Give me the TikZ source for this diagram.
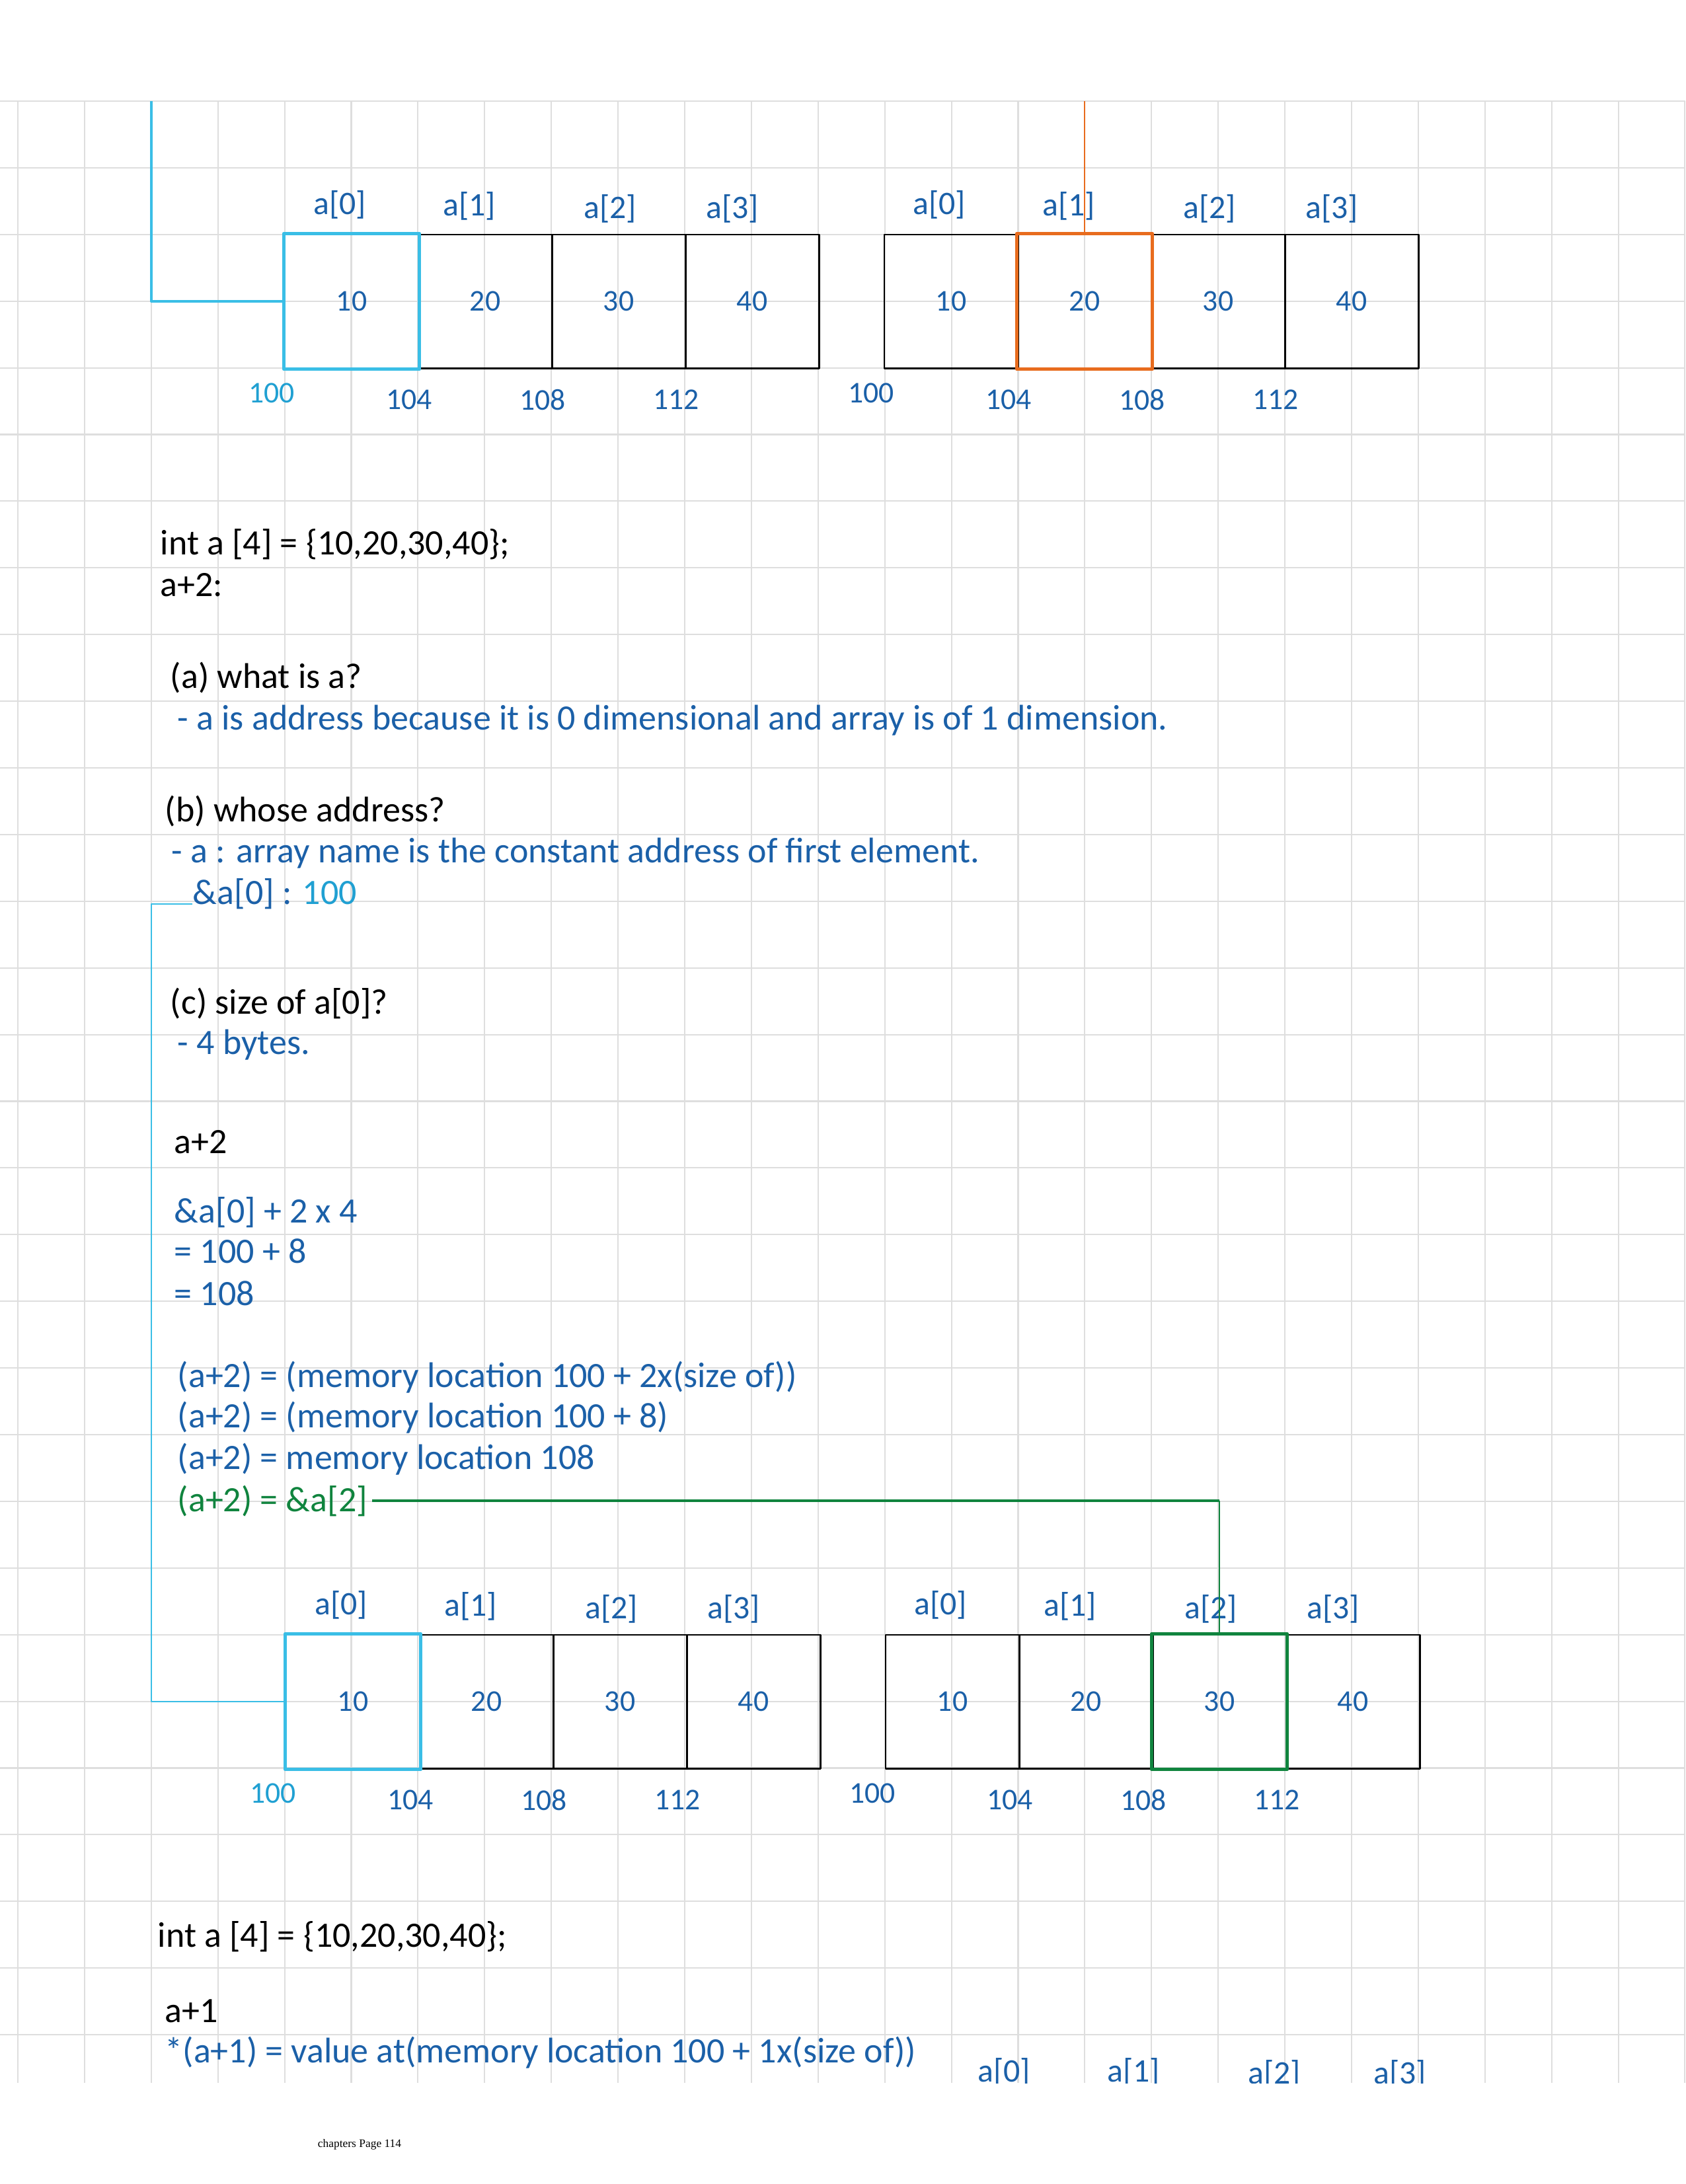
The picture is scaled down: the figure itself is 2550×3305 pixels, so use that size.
\documentclass[tikz,border=0pt]{standalone}
\usepackage{fontspec}
\setmainfont{Carlito}
\newfontfamily\footfont{Liberation Serif}
\definecolor{ink}{RGB}{27,96,168}
\definecolor{cyanink}{RGB}{32,160,210}
\definecolor{cyanline}{RGB}{58,190,230}
\definecolor{orangeline}{RGB}{232,108,30}
\definecolor{greenline}{RGB}{16,132,62}
\begin{document}
\begin{tikzpicture}[x=0.24bp, y=-0.24bp, line join=round,
    gridline/.style={draw=black!13, line width=0.5bp},
    cell/.style={draw=black, line width=0.7bp, minimum width=48.5bp, minimum height=48.5bp,
        inner sep=0pt, text=ink, font=\fontsize{11}{13}\selectfont},
    idx/.style={text=ink, inner sep=0pt, font=\fontsize{12}{14}\selectfont},
    addr/.style={text=ink, inner sep=0pt, font=\fontsize{11}{13}\selectfont},
    txt/.style={anchor=base west, inner sep=0pt, font=\fontsize{13}{15}\selectfont},
    note/.style={txt, text=ink}]
    \useasboundingbox (0,0) rectangle (2550,3305);

    % squared paper, cut off at the bottom
    \begin{scope}
        \clip (0,0) rectangle (2550,3152);
        \foreach \k in {0,...,25}
            \draw[gridline] ({27+100.9*\k},153) -- ({27+100.9*\k},3152);
        \foreach \j in {0,...,29}
            \draw[gridline] (0,{153+100.9*\j}) -- (2550,{153+100.9*\j});

        % labels of the last array (only their tops show)
        \node[idx] (tail0) at (1519,3136) {a[0]};
        \node[idx] (tail1) at (1715,3136) {a[1]};
        \node[idx] (tail2) at (1928,3139) {a[2]};
        \node[idx] (tail3) at (2118,3139) {a[3]};
    \end{scope}

    % the four arrays: name / top left corner / colour of "100"
    \foreach \arr/\ox/\oy/\zc in {upL/431/355/cyanink, upR/1338/355/ink,
                                  lowL/433/2474/cyanink, lowR/1340/2474/ink} {
        \foreach \i/\v/\dx/\dy in {0/10/-18/-45, 1/20/-24/-43, 2/30/-13/-39, 3/40/-30/-39} {
            \node[cell] (\arr\i) at ({\ox+101+202*\i},{\oy+101}) {\v};
            \node[idx] (\arr-lab\i) at ({\ox+101+202*\i+\dx},{\oy+\dy}) {a[\i]};
        }
        \node[addr, text=\zc] (\arr-adr0) at ({\ox-20},{\oy+240}) {100};
        \foreach \i in {1,2,3} {
            \pgfmathtruncatemacro\ad{100+4*\i}
            \node[addr] (\arr-adr\i) at ({\ox+202*\i-14},{\oy+250}) {\ad};
        }
    }

    % marked cells
    \draw[cyanline, line width=1.3bp] (upL0.south west) rectangle (upL0.north east);
    \draw[orangeline, line width=1.3bp] (upR1.south west) rectangle (upR1.north east);
    \draw[cyanline, line width=1.3bp] (lowL0.south west) rectangle (lowL0.north east);
    \draw[greenline, line width=1.3bp] (lowR2.south west) rectangle (lowR2.north east);

    % text of the page
    \node[txt] (decl1) at (242,839) {int a [4] = \{10,20,30,40\};};
    \node[txt] (step1) at (242,902) {a+2:};
    \node[txt] (qa) at (257,1041) {(a) what is a?};
    \node[note] (ansa) at (268,1104) {- a is address because it is 0 dimensional and array is of 1 dimension.};
    \node[txt] (qb) at (249,1243) {(b) whose address?};
    \node[note] (ansb) at (259,1305) {- a : array name is the constant address of first element.};
    \node[note] (addrzero) at (291,1368) {\&a[0] : \textcolor{cyanink}{100}};
    \node[txt] (qc) at (257,1534) {(c) size of a[0]?};
    \node[note] (ansc) at (268,1595) {- 4 bytes.};
    \node[txt] (step2) at (263,1745) {a+2};
    \node[note] (calcA) at (263,1850) {\&a[0] + 2 x 4};
    \node[note] (calcB) at (263,1911) {= 100 + 8};
    \node[note] (calcC) at (263,1975) {= 108};
    \node[note] (memA) at (268,2099) {(a+2) = (memory location 100 + 2x(size of))};
    \node[note] (memB) at (268,2160) {(a+2) = (memory location 100 + 8)};
    \node[note] (memC) at (268,2223) {(a+2) = memory location 108};
    \node[txt, text=greenline] (memD) at (268,2287) {(a+2) = \&a[2]};
    \node[txt] (decl2) at (238,2946) {int a [4] = \{10,20,30,40\};};
    \node[txt] (step3) at (249,3060) {a+1};
    \node[note] (deref) at (249,3121) {*(a+1) = value at(memory location 100 + 1x(size of))};

    % pointer lines
    \coordinate (cyantop) at (229,153);
    \draw[cyanline, line width=0.8bp] (cyantop) |- (upL0.west);
    \coordinate (orangetop) at (1641,153);
    \draw[orangeline, line width=0.5bp] (orangetop) -- (upR1.north);
    \draw[cyanline, line width=0.6bp] (addrzero.base west) -- ++(-62,0) |- (lowL0.west);
    \coordinate (gcorner) at (lowR2.north |- memD.east);
    \draw[greenline, line width=0.9bp, shorten <=1.5bp] (memD.east) -- (gcorner);
    \draw[greenline, line width=0.5bp] (gcorner) -- (lowR2.north);

    \node[font=\footfont\fontsize{4.2}{5}\selectfont, inner sep=0pt] (footer) at (544,3245) {chapters Page 114};
\end{tikzpicture}
\end{document}
